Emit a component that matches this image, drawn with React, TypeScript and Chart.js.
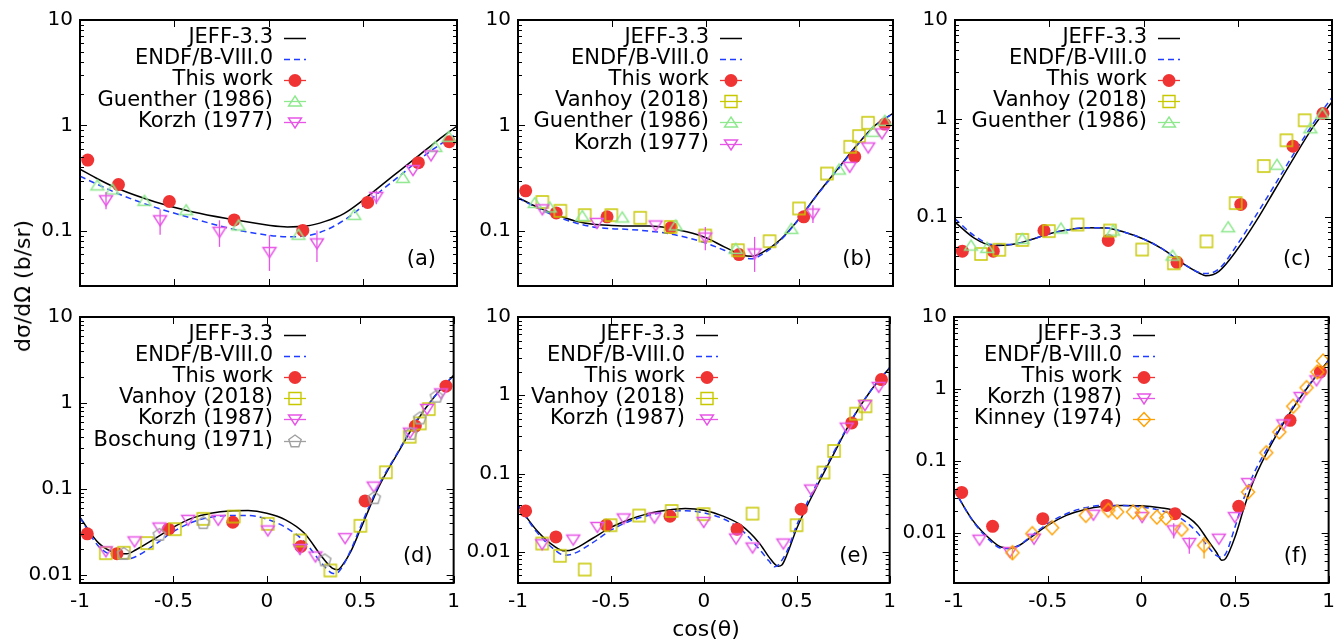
import React, { useEffect, useRef } from 'react';
import { Chart, registerables } from 'chart.js';

Chart.register(...registerables);
const FONT = "'DejaVu Sans', sans-serif";
Chart.defaults.font.family = FONT;

type Pt = number[]; // [x, y, errLow?, errHigh?]

// ---------------- tick labels ----------------
const xTickValues = [-1, -0.5, 0, 0.5, 1];
const yTickLabels = ['10', '1', '0.1', '0.01'];

// ---------------- panel (a) ----------------
const a_jeff: Pt[] = [[-1,0.385],[-0.9,0.307],[-0.8,0.252],[-0.6,0.188],[-0.4,0.151],[-0.2,0.129],[0,0.113],[0.1,0.109],[0.2,0.111],[0.3,0.123],[0.4,0.146],[0.5,0.195],[0.6,0.272],[0.7,0.377],[0.8,0.523],[0.9,0.726],[1,0.986]];
const a_endf: Pt[] = [[-1,0.33],[-0.9,0.272],[-0.8,0.226],[-0.6,0.167],[-0.4,0.131],[-0.2,0.105],[0,0.091],[0.1,0.088],[0.2,0.0897],[0.3,0.101],[0.4,0.126],[0.5,0.171],[0.6,0.243],[0.7,0.337],[0.8,0.475],[0.9,0.641],[1,0.84]];
const a_this: Pt[] = [[-0.959,0.469],[-0.796,0.275],[-0.526,0.19],[-0.182,0.127],[0.182,0.101],[0.526,0.186],[0.795,0.443],[0.959,0.70]];
const a_guenther: Pt[] = [[-0.908,0.27],[-0.828,0.247],[-0.658,0.193],[-0.437,0.157],[-0.159,0.1125],[0.159,0.092],[0.455,0.142],[0.713,0.318],[0.885,0.626],[0.956,0.78]];
const a_korzh: Pt[] = [[-0.862,0.195,0.16,0.234],[-0.575,0.126,0.092,0.16],[-0.26,0.098,0.0705,0.126],[0.005,0.063,0.0417,0.091],[0.257,0.076,0.0508,0.101],[0.572,0.21,0.179,0.243],[0.766,0.377],[0.862,0.52]];

// ---------------- panel (b) ----------------
const b_jeff: Pt[] = [[-1,0.207],[-0.9,0.169],[-0.8,0.143],[-0.7,0.125],[-0.6,0.1157],[-0.5,0.1125],[-0.4,0.111],[-0.3,0.111],[-0.2,0.1067],[-0.1,0.098],[0,0.0865],[0.1,0.0705],[0.2,0.0587],[0.25,0.0576],[0.3,0.0618],[0.4,0.0828],[0.5,0.131],[0.6,0.226],[0.7,0.377],[0.8,0.627],[0.9,0.986],[1,1.30]];
const b_endf: Pt[] = [[-1,0.205],[-0.9,0.166],[-0.8,0.138],[-0.7,0.12],[-0.6,0.109],[-0.5,0.105],[-0.4,0.103],[-0.3,0.0995],[-0.2,0.0944],[-0.1,0.0865],[0,0.0769],[0.1,0.0655],[0.2,0.0558],[0.25,0.0544],[0.3,0.0596],[0.4,0.0815],[0.5,0.13],[0.6,0.224],[0.7,0.37],[0.8,0.62],[0.9,0.98],[1,1.3]];
const b_this: Pt[] = [[-0.959,0.24],[-0.796,0.148],[-0.525,0.136],[-0.184,0.1076],[0.179,0.0596],[0.524,0.136],[0.796,0.505],[0.956,1.03]];
const b_vanhoy: Pt[] = [[-0.87,0.188],[-0.774,0.155],[-0.644,0.141],[-0.502,0.141],[-0.348,0.133],[-0.186,0.109],[-0.001,0.0903],[0.173,0.0655],[0.342,0.0798],[0.499,0.163],[0.648,0.35],[0.772,0.627],[0.819,0.792],[0.867,1.06]];
const b_guenther: Pt[] = [[-0.911,0.184],[-0.831,0.167],[-0.657,0.138],[-0.444,0.134],[-0.159,0.1125],[0.161,0.0675],[0.458,0.1045],[0.712,0.382],[0.893,0.871],[0.956,1.107]];
const b_korzh: Pt[] = [[-0.87,0.16],[-0.579,0.119],[-0.266,0.1125],[-0.001,0.0865,0.0655,0.109],[0.262,0.061,0.0408,0.0877],[0.573,0.146,0.119,0.175],[0.769,0.405],[0.868,0.618],[0.941,0.84]];

// ---------------- panel (c) ----------------
const c_jeff: Pt[] = [[-1,0.0889],[-0.9,0.0617],[-0.8,0.0515],[-0.7,0.0527],[-0.6,0.0588],[-0.5,0.0677],[-0.4,0.0743],[-0.3,0.078],[-0.2,0.0777],[-0.1,0.0703],[0,0.06],[0.1,0.0477],[0.2,0.0348],[0.3,0.0268],[0.33,0.0254],[0.4,0.0282],[0.5,0.0477],[0.6,0.0925],[0.7,0.194],[0.8,0.407],[0.9,0.822],[1,1.47]];
const c_endf: Pt[] = [[-1,0.0962],[-0.9,0.0652],[-0.8,0.0527],[-0.7,0.0527],[-0.6,0.0588],[-0.5,0.0677],[-0.4,0.0743],[-0.3,0.078],[-0.2,0.0777],[-0.1,0.0703],[0,0.06],[0.1,0.0477],[0.2,0.0348],[0.3,0.0272],[0.33,0.0268],[0.4,0.0298],[0.5,0.0536],[0.6,0.1064],[0.7,0.218],[0.8,0.448],[0.9,0.889],[1,1.64]];
const c_this: Pt[] = [[-0.961,0.0451],[-0.797,0.0451],[-0.528,0.0731],[-0.187,0.058],[0.178,0.0348],[0.516,0.1346],[0.793,0.524],[0.952,1.124]];
const c_vanhoy: Pt[] = [[-0.862,0.0423],[-0.765,0.0466],[-0.643,0.0587],[-0.502,0.0721],[-0.35,0.0841],[-0.178,0.0731],[-0.007,0.0469],[0.161,0.034],[0.334,0.0567],[0.489,0.1387],[0.638,0.33],[0.758,0.602],[0.855,0.961]];
const c_guenther: Pt[] = [[-0.915,0.0515],[-0.829,0.0488],[-0.643,0.0602],[-0.438,0.0767],[-0.161,0.0731],[0.154,0.0407],[0.449,0.079],[0.708,0.34],[0.885,0.797],[0.949,1.12]];

// ---------------- panel (d) ----------------
const d_jeff: Pt[] = [[-1,0.0463],[-0.9,0.0233],[-0.8,0.0178],[-0.75,0.0175],[-0.7,0.0195],[-0.6,0.0262],[-0.5,0.0357],[-0.4,0.0455],[-0.3,0.052],[-0.2,0.0553],[-0.1,0.0557],[0,0.052],[0.1,0.0435],[0.2,0.0305],[0.3,0.0156],[0.35,0.0119],[0.38,0.0114],[0.4,0.0125],[0.45,0.0187],[0.5,0.0333],[0.6,0.106],[0.7,0.259],[0.8,0.603],[0.9,1.2],[1,2.1]];
const d_endf: Pt[] = [[-1,0.0463],[-0.9,0.0213],[-0.8,0.0159],[-0.75,0.0152],[-0.7,0.0163],[-0.6,0.0223],[-0.5,0.0318],[-0.4,0.0408],[-0.3,0.0467],[-0.2,0.0489],[-0.1,0.0489],[0,0.0443],[0.1,0.0357],[0.2,0.0244],[0.3,0.0131],[0.35,0.0104],[0.37,0.0103],[0.4,0.0119],[0.45,0.0195],[0.5,0.0357],[0.6,0.111],[0.7,0.264],[0.8,0.62],[0.9,1.2],[1,2.1]];
const d_this: Pt[] = [[-0.961,0.0299],[-0.802,0.01755],[-0.526,0.0339],[-0.182,0.0408],[0.182,0.0213],[0.526,0.0723],[0.795,0.537],[0.959,1.566]];
const d_vanhoy: Pt[] = [[-0.862,0.0178],[-0.765,0.018],[-0.641,0.0233],[-0.492,0.0339],[-0.34,0.0447],[-0.177,0.0475],[0.005,0.0391],[0.177,0.025],[0.34,0.0112],[0.501,0.0371],[0.637,0.1556],[0.765,0.404],[0.819,0.577],[0.867,0.847]];
const d_korzh: Pt[] = [[-0.862,0.0187],[-0.708,0.0244],[-0.575,0.0354],[-0.421,0.0435],[-0.26,0.0435],[0.005,0.0327],[0.177,0.0199],[0.26,0.0163],[0.419,0.0266],[0.572,0.106],[0.766,0.45],[0.858,0.85],[0.933,1.29]];
const d_boschung: Pt[] = [[-0.766,0.0174],[-0.575,0.0291],[-0.34,0.0398],[0.31,0.01465],[0.575,0.0776],[0.77,0.434],[0.819,0.659],[0.908,1.18]];

// ---------------- panel (e) ----------------
const e_jeff: Pt[] = [[-1,0.0394],[-0.9,0.0189],[-0.8,0.0116],[-0.75,0.0103],[-0.7,0.0108],[-0.6,0.0148],[-0.5,0.0205],[-0.4,0.0259],[-0.3,0.0308],[-0.2,0.034],[-0.1,0.0357],[0,0.034],[0.1,0.0288],[0.2,0.0219],[0.3,0.0128],[0.35,0.00863],[0.4,0.00656],[0.42,0.0068],[0.45,0.00953],[0.5,0.0199],[0.6,0.0625],[0.7,0.18],[0.8,0.504],[0.9,1.16],[1,2.25]];
const e_endf: Pt[] = [[-1,0.0394],[-0.9,0.018],[-0.8,0.0105],[-0.75,0.00906],[-0.7,0.0095],[-0.6,0.013],[-0.5,0.0189],[-0.4,0.0246],[-0.3,0.0291],[-0.2,0.0324],[-0.1,0.0335],[0,0.0315],[0.1,0.0267],[0.2,0.0193],[0.3,0.0107],[0.35,0.00767],[0.38,0.00644],[0.4,0.0068],[0.45,0.0105],[0.5,0.0219],[0.6,0.068],[0.7,0.19],[0.8,0.51],[0.9,1.16],[1,2.25]];
const e_this: Pt[] = [[-0.959,0.0333],[-0.796,0.0155],[-0.525,0.0219],[-0.182,0.0285],[0.179,0.0195],[0.524,0.0351],[0.796,0.443],[0.956,1.585]];
const e_vanhoy: Pt[] = [[-0.87,0.01277],[-0.774,0.0089],[-0.641,0.00594],[-0.502,0.0219],[-0.348,0.0291],[-0.173,0.0333],[-0.001,0.0303],[0.262,0.0308],[0.499,0.0219],[0.644,0.103],[0.701,0.1945],[0.819,0.583],[0.87,0.724]];
const e_korzh: Pt[] = [[-0.87,0.0125],[-0.703,0.01435],[-0.573,0.0208],[-0.431,0.0267],[-0.266,0.0274],[-0.001,0.0241],[0.173,0.0148],[0.262,0.01135],[0.428,0.01277],[0.577,0.0625],[0.769,0.386],[0.867,0.75],[0.941,1.28]];

// ---------------- panel (f) ----------------
const f_jeff: Pt[] = [[-1,0.0397],[-0.9,0.01486],[-0.8,0.00783],[-0.75,0.00633],[-0.7,0.00612],[-0.65,0.0067],[-0.6,0.00826],[-0.5,0.01265],[-0.4,0.01745],[-0.3,0.0211],[-0.2,0.0233],[-0.1,0.024],[0,0.0238],[0.1,0.0223],[0.2,0.0194],[0.3,0.01265],[0.35,0.00826],[0.4,0.0054],[0.43,0.00413],[0.45,0.00436],[0.5,0.0087],[0.55,0.0229],[0.6,0.0535],[0.7,0.182],[0.8,0.493],[0.9,1.16],[1,2.5]];
const f_endf: Pt[] = [[-1,0.04],[-0.9,0.0146],[-0.8,0.00743],[-0.75,0.0061],[-0.7,0.006],[-0.65,0.0067],[-0.6,0.0085],[-0.5,0.01336],[-0.4,0.0184],[-0.3,0.0223],[-0.2,0.024],[-0.1,0.024],[0,0.0228],[0.1,0.0205],[0.2,0.0165],[0.3,0.01],[0.35,0.0067],[0.4,0.00484],[0.42,0.0046],[0.45,0.0051],[0.5,0.012],[0.55,0.0314],[0.6,0.0662],[0.7,0.197],[0.8,0.52],[0.9,1.19],[1,2.5]];
const f_this: Pt[] = [[-0.959,0.0364],[-0.794,0.01227],[-0.526,0.01567],[-0.185,0.024],[0.18,0.0184],[0.52,0.0233],[0.794,0.366],[0.956,1.72]];
const f_korzh: Pt[] = [[-0.864,0.008],[-0.702,0.0054],[-0.573,0.00826],[-0.256,0.0178],[0.004,0.0165],[0.173,0.0108,0.0083,0.0135],[0.256,0.0072,0.0051,0.0086],[0.414,0.00826],[0.499,0.0165],[0.57,0.049],[0.758,0.321],[0.85,0.771],[0.935,1.315]];
const f_kinney: Pt[] = [[-0.688,0.00527,0.0042,0.0066],[-0.582,0.0097],[-0.476,0.01175],[-0.296,0.01746],[-0.176,0.0205],[-0.129,0.0195],[-0.044,0.0195],[0.004,0.019],[0.083,0.0165],[0.132,0.016],[0.215,0.01114],[0.335,0.00667,0.0044,0.0087],[0.57,0.0368],[0.667,0.1297],[0.737,0.252],[0.811,0.573],[0.882,1.04],[0.94,1.72],[0.97,2.44]];

// ---------------- styling ----------------
type Kind = 'jeff' | 'endf' | 'this' | 'guenther' | 'korzh' | 'vanhoy' | 'boschung' | 'kinney';
const COLORS: Record<Kind, string> = {
  jeff: '#000000', endf: '#1f3cff', this: '#f03434', guenther: '#8ee88e',
  korzh: '#e655e6', vanhoy: '#c8c800', boschung: '#a0a0a0', kinney: '#ffa000',
};

interface Series { label: string; kind: Kind; data: Pt[] }
interface Panel { tag: string; box: [number, number, number, number]; yMin: number; xLabels: boolean; keyRight: number; series: Series[] }

const S = (label: string, kind: Kind, data: Pt[]): Series => ({ label, kind, data });

const PANELS: Panel[] = [
  { tag: '(a)', box: [80, 20, 457, 286], yMin: 0.03, xLabels: false, keyRight: 193, series: [
    S('JEFF-3.3', 'jeff', a_jeff), S('ENDF/B-VIII.0', 'endf', a_endf), S('This work', 'this', a_this),
    S('Guenther (1986)', 'guenther', a_guenther), S('Korzh (1977)', 'korzh', a_korzh)] },
  { tag: '(b)', box: [518, 20, 893, 286], yMin: 0.03, xLabels: false, keyRight: 191, series: [
    S('JEFF-3.3', 'jeff', b_jeff), S('ENDF/B-VIII.0', 'endf', b_endf), S('This work', 'this', b_this),
    S('Vanhoy (2018)', 'vanhoy', b_vanhoy), S('Guenther (1986)', 'guenther', b_guenther), S('Korzh (1977)', 'korzh', b_korzh)] },
  { tag: '(c)', box: [955, 20, 1332, 286], yMin: 0.02, xLabels: false, keyRight: 192, series: [
    S('JEFF-3.3', 'jeff', c_jeff), S('ENDF/B-VIII.0', 'endf', c_endf), S('This work', 'this', c_this),
    S('Vanhoy (2018)', 'vanhoy', c_vanhoy), S('Guenther (1986)', 'guenther', c_guenther)] },
  { tag: '(d)', box: [80, 317, 457, 583], yMin: 0.008, xLabels: true, keyRight: 193, series: [
    S('JEFF-3.3', 'jeff', d_jeff), S('ENDF/B-VIII.0', 'endf', d_endf), S('This work', 'this', d_this),
    S('Vanhoy (2018)', 'vanhoy', d_vanhoy), S('Korzh (1987)', 'korzh', d_korzh), S('Boschung (1971)', 'boschung', d_boschung)] },
  { tag: '(e)', box: [518, 317, 893, 583], yMin: 0.004, xLabels: true, keyRight: 167, series: [
    S('JEFF-3.3', 'jeff', e_jeff), S('ENDF/B-VIII.0', 'endf', e_endf), S('This work', 'this', e_this),
    S('Vanhoy (2018)', 'vanhoy', e_vanhoy), S('Korzh (1987)', 'korzh', e_korzh)] },
  { tag: '(f)', box: [954, 317, 1332, 583], yMin: 0.002, xLabels: true, keyRight: 168, series: [
    S('JEFF-3.3', 'jeff', f_jeff), S('ENDF/B-VIII.0', 'endf', f_endf), S('This work', 'this', f_this),
    S('Korzh (1987)', 'korzh', f_korzh), S('Kinney (1974)', 'kinney', f_kinney)] },
];

const PAD_L = 80, PAD_T = 20, PAD_R = 10, PAD_B = 40;

function drawShape(ctx: CanvasRenderingContext2D, kind: Kind, x: number, y: number) {
  const c = COLORS[kind];
  ctx.save();
  ctx.strokeStyle = c; ctx.fillStyle = c; ctx.lineWidth = 1.4; ctx.setLineDash([]);
  ctx.beginPath();
  if (kind === 'this') {
    ctx.arc(x, y, 6.5, 0, Math.PI * 2); ctx.fill();
  } else if (kind === 'guenther') {
    ctx.moveTo(x, y - 5.5); ctx.lineTo(x + 6.5, y + 4.5); ctx.lineTo(x - 6.5, y + 4.5); ctx.closePath(); ctx.stroke();
  } else if (kind === 'korzh') {
    ctx.moveTo(x, y + 5.5); ctx.lineTo(x + 6.5, y - 4.5); ctx.lineTo(x - 6.5, y - 4.5); ctx.closePath(); ctx.stroke();
  } else if (kind === 'vanhoy') {
    ctx.rect(x - 6, y - 6, 12, 12); ctx.stroke();
  } else if (kind === 'kinney') {
    ctx.moveTo(x, y - 7); ctx.lineTo(x + 6.5, y); ctx.lineTo(x, y + 7); ctx.lineTo(x - 6.5, y); ctx.closePath(); ctx.stroke();
  } else if (kind === 'boschung') {
    for (let k = 0; k < 5; k++) {
      const a = -Math.PI / 2 + (k * 2 * Math.PI) / 5;
      const px = x + 6.5 * Math.cos(a), py = y + 6.5 * Math.sin(a);
      if (k === 0) ctx.moveTo(px, py); else ctx.lineTo(px, py);
    }
    ctx.closePath(); ctx.stroke();
  }
  ctx.restore();
}

function markerImage(kind: Kind): HTMLCanvasElement {
  const cv = document.createElement('canvas');
  cv.width = 20; cv.height = 20;
  const ctx = cv.getContext('2d')!;
  drawShape(ctx, kind, 10, 10);
  return cv;
}

function buildConfig(p: Panel): any {
  const datasets = p.series.map((s, i) => {
    const isLine = s.kind === 'jeff' || s.kind === 'endf';
    const color = COLORS[s.kind];
    const base: any = {
      label: s.label,
      kind: s.kind,
      data: s.data.map((d) => ({ x: d[0], y: d[1], lo: d[2], hi: d[3] })),
      borderColor: color,
      backgroundColor: color,
    };
    if (isLine) {
      return {
        ...base, showLine: true, pointRadius: 0, borderWidth: 1.5,
        borderDash: s.kind === 'endf' ? [6, 4] : [],
        cubicInterpolationMode: 'monotone',
        order: s.kind === 'jeff' ? 100 : 99,
      };
    }
    if (s.kind === 'this') {
      return { ...base, showLine: false, pointStyle: 'circle', pointRadius: 6.5, pointBorderWidth: 0,
        pointBackgroundColor: color, pointBorderColor: color, order: 50 };
    }
    return { ...base, showLine: false, pointStyle: markerImage(s.kind), pointRadius: 6,
      order: 40 - i };
  });

  const deco = {
    id: 'deco',
    afterDatasetDraw(chart: any, args: any) {
      const ds = chart.data.datasets[args.index];
      const xs = chart.scales.x, ys = chart.scales.y;
      const { left, right, top, bottom } = chart.chartArea;
      const ctx = chart.ctx;
      ctx.save();
      ctx.beginPath(); ctx.rect(left, top, right - left, bottom - top); ctx.clip();
      ctx.strokeStyle = ds.borderColor; ctx.lineWidth = 1.3; ctx.setLineDash([]);
      for (const d of ds.data) {
        if (d.lo == null || d.hi == null) continue;
        const px = xs.getPixelForValue(d.x);
        ctx.beginPath();
        ctx.moveTo(px, ys.getPixelForValue(d.lo));
        ctx.lineTo(px, ys.getPixelForValue(d.hi));
        ctx.stroke();
      }
      ctx.restore();
    },
    afterDraw(chart: any) {
      const ctx: CanvasRenderingContext2D = chart.ctx;
      const xs = chart.scales.x, ys = chart.scales.y;
      const { left, right, top, bottom } = chart.chartArea;
      ctx.save();
      ctx.setLineDash([]);
      ctx.strokeStyle = '#000'; ctx.lineWidth = 1;
      ctx.beginPath();
      for (const t of xs.ticks) {
        const px = Math.round(xs.getPixelForValue(t.value)) + 0.5;
        ctx.moveTo(px, bottom); ctx.lineTo(px, bottom - 7);
        ctx.moveTo(px, top); ctx.lineTo(px, top + 7);
      }
      const e0 = Math.floor(Math.log10(ys.min)), e1 = Math.ceil(Math.log10(ys.max));
      for (let e = e0; e <= e1; e++) {
        for (let m = 1; m <= 9; m++) {
          const v = m * Math.pow(10, e);
          if (v < ys.min * 0.999 || v > ys.max * 1.001) continue;
          const py = Math.round(ys.getPixelForValue(v)) + 0.5;
          const len = m === 1 ? 7 : 4;
          ctx.moveTo(left, py); ctx.lineTo(left + len, py);
          ctx.moveTo(right, py); ctx.lineTo(right - len, py);
        }
      }
      ctx.stroke();
      ctx.lineWidth = 2;
      ctx.strokeRect(left, top, right - left, bottom - top);

      // key
      ctx.font = `21px ${FONT}`;
      ctx.textAlign = 'right';
      ctx.textBaseline = 'middle';
      chart.data.datasets.forEach((ds: any, i: number) => {
        const y = Math.round(top + 18 + i * 21.1);
        const tx = left + p.keyRight;
        ctx.fillStyle = '#000';
        ctx.fillText(ds.label, tx, y);
        const kind: Kind = ds.kind;
        ctx.strokeStyle = COLORS[kind];
        ctx.lineWidth = kind === 'jeff' || kind === 'endf' ? 1.5 : 1.3;
        ctx.setLineDash(kind === 'endf' ? [6, 4] : []);
        ctx.beginPath(); ctx.moveTo(tx + 11, y + 0.5); ctx.lineTo(tx + 33, y + 0.5); ctx.stroke();
        ctx.setLineDash([]);
        if (kind !== 'jeff' && kind !== 'endf') drawShape(ctx, kind, tx + 22, y + 0.5);
      });

      ctx.fillStyle = '#000';
      ctx.textAlign = 'right';
      ctx.fillText(p.tag, right - 21, bottom - 26);
      ctx.restore();
    },
  };

  return {
    type: 'scatter',
    data: { datasets },
    options: {
      animation: false,
      responsive: false,
      events: [],
      layout: { padding: { left: 0, right: PAD_R, top: PAD_T, bottom: 0 } },
      plugins: { legend: { display: false }, tooltip: { enabled: false }, title: { display: false } },
      scales: {
        x: {
          type: 'linear', min: -1, max: 1,
          grid: { display: false, drawTicks: false },
          border: { display: false },
          afterBuildTicks: (s: any) => { s.ticks = xTickValues.map((v) => ({ value: v })); },
          ticks: {
            display: p.xLabels, padding: 7, color: '#000', autoSkip: false, maxRotation: 0,
            font: { size: 20, family: FONT },
            callback: (v: any) => String(v),
          },
          afterFit: (s: any) => { s.height = PAD_B; },
        },
        y: {
          type: 'logarithmic', min: p.yMin, max: 10,
          grid: { display: false, drawTicks: false },
          border: { display: false },
          ticks: {
            autoSkip: false, padding: 7, color: '#000',
            font: { size: 20, family: FONT },
            callback: (v: any) => {
              const s = String(+Number(v).toPrecision(3));
              return yTickLabels.includes(s) ? s : '';
            },
          },
          afterFit: (s: any) => { s.width = PAD_L; },
        },
      },
    },
    plugins: [deco],
  };
}

function PanelChart({ p }: { p: Panel }) {
  const ref = useRef<HTMLCanvasElement>(null);
  const [L, T, R, B] = p.box;
  const w = R - L + PAD_L + PAD_R;
  const h = B - T + PAD_T + PAD_B;
  useEffect(() => {
    const chart = new Chart(ref.current!, buildConfig(p));
    return () => chart.destroy();
  }, []);
  return (
    <canvas ref={ref} width={w} height={h}
      style={{ position: 'absolute', left: L - PAD_L, top: T - PAD_T, width: w, height: h }} />
  );
}

export default function App() {
  return (
    <div style={{ position: 'absolute', left: 0, top: 0, width: 1341, height: 639, background: '#fff', overflow: 'hidden' }}>
      {PANELS.map((p) => <PanelChart key={p.tag} p={p} />)}
      <div style={{ position: 'absolute', left: 23, top: 286, transform: 'translate(-50%, -50%) rotate(-90deg)',
        font: `22px ${FONT}`, lineHeight: 1, whiteSpace: 'nowrap', color: '#000' }}>dσ/dΩ (b/sr)</div>
      <div style={{ position: 'absolute', left: 706, top: 629, transform: 'translate(-50%, -50%)',
        font: `22px ${FONT}`, lineHeight: 1, whiteSpace: 'nowrap', color: '#000' }}>cos(θ)</div>
    </div>
  );
}
